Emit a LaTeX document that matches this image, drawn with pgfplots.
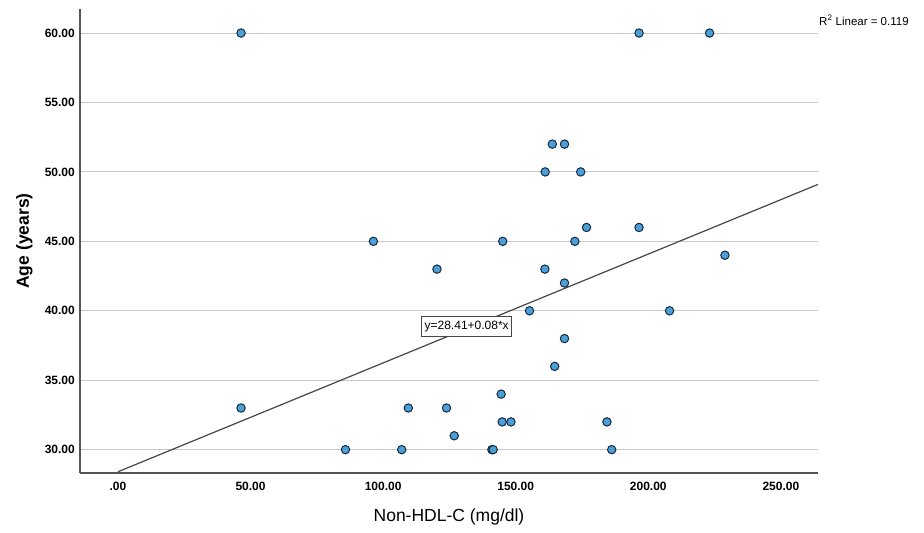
\documentclass[border=0pt]{standalone}
\usepackage{fontspec}
\setmainfont{Liberation Sans}
\usepackage{pgfplots}
\pgfplotsset{compat=1.18}

\definecolor{dotfill}{RGB}{76,160,218}
\definecolor{dotedge}{RGB}{22,40,62}
\definecolor{gridgray}{RGB}{200,200,200}
\definecolor{axisgray}{RGB}{85,85,85}
\definecolor{fitgray}{RGB}{70,70,70}

\newcommand{\tickfont}{\fontsize{12bp}{14bp}\selectfont\bfseries}
\newcommand{\labfont}{\fontsize{17.5bp}{20bp}\selectfont}
\newcommand{\smallfont}{\fontsize{11.5bp}{13bp}\selectfont}

\begin{document}
\begin{tikzpicture}
\useasboundingbox (-80bp,-60bp) rectangle (844bp,473bp);
\begin{axis}[
    scale only axis,
    width=738bp,
    height=464bp,
    xmin=-14.33, xmax=264,
    ymin=28.32, ymax=61.73,
    axis lines*=left,
    axis line style={draw=axisgray, line width=1.3bp},
    major tick length=0pt,
    xtick={0,50,100,150,200,250},
    xticklabels={.00,50.00,100.00,150.00,200.00,250.00},
    ytick={30,35,40,45,50,55,60},
    yticklabels={30.00,35.00,40.00,45.00,50.00,55.00,60.00},
    xticklabel style={font=\tickfont, anchor=north, inner sep=0pt, yshift=-8.5bp},
    yticklabel style={font=\tickfont, anchor=east, inner sep=0pt, xshift=-5bp},
    ymajorgrids,
    grid style={draw=gridgray, line width=1bp},
    clip=false,
]
% fit line
\addplot[draw=fitgray, line width=1.2bp] coordinates {(0,28.41) (264,49.1)};

% observations
\addplot[only marks, mark=*, mark size=4.2bp,
    mark options={fill=dotfill, draw=dotedge, line width=1bp}] table {
x y
46.4 60
196.5 60
223.1 60
163.8 52
168.4 52
161.1 50
174.5 50
176.7 46
196.5 46
96.3 45
145.1 45
172.3 45
228.9 44
120.3 43
161.0 43
168.4 42
155.2 40
208.0 40
168.4 38
164.7 36
144.5 34
46.4 33
109.5 33
123.9 33
144.9 32
148.2 32
184.4 32
126.8 31
85.8 30
107.0 30
141.0 30
141.5 30
186.2 30
};

\node[draw=fitgray, line width=0.8bp, fill=white, font=\fontsize{12bp}{14bp}\selectfont,
    inner xsep=3bp, inner ysep=4.5bp] at (axis cs:131.5,38.85) {y=28.41+0.08*x};

\node[anchor=west, font=\smallfont, inner sep=0pt] at ([xshift=1bp]rel axis cs:1,0.976) {R\textsuperscript{2} Linear = 0.119};

\node[font=\labfont, anchor=center] at ([yshift=-44bp]rel axis cs:0.5,0) {Non-HDL-C (mg/dl)};
\node[font=\labfont\bfseries, rotate=90, anchor=center] at ([xshift=-55.5bp]rel axis cs:0,0.5) {Age (years)};
\end{axis}
\end{tikzpicture}
\end{document}
